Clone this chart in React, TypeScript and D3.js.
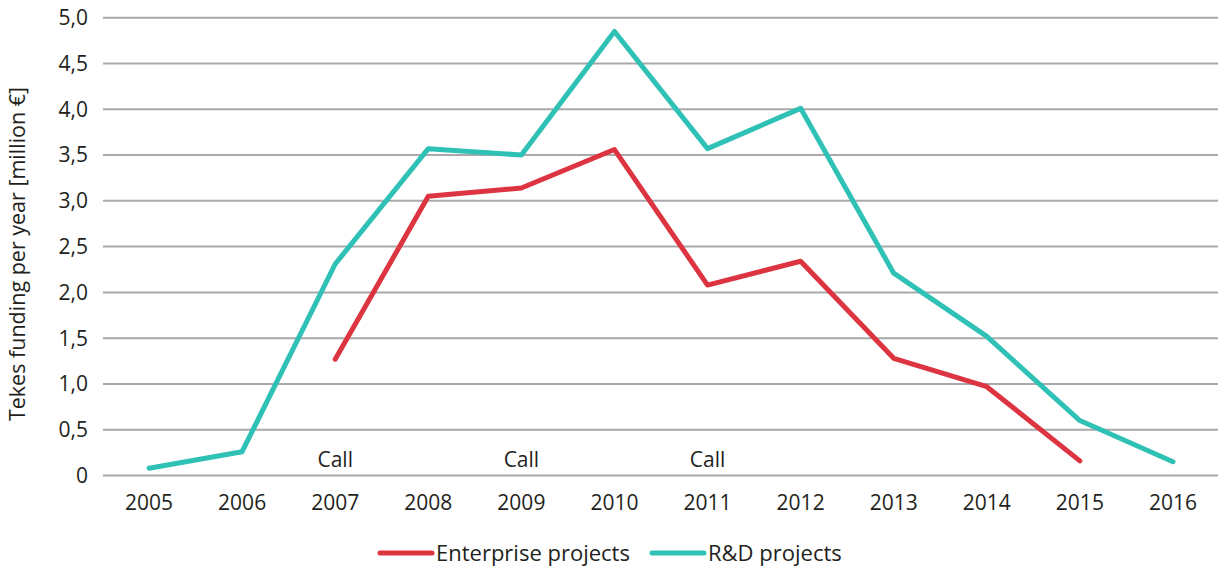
import React from "react";
import * as d3 from "d3";

const years = ["2005", "2006", "2007", "2008", "2009", "2010", "2011", "2012", "2013", "2014", "2015", "2016"];
const rdValues = [0.08, 0.26, 2.31, 3.57, 3.5, 4.85, 3.57, 4.01, 2.21, 1.52, 0.6, 0.15];
const enterpriseValues = [null, null, 1.27, 3.05, 3.14, 3.56, 2.08, 2.34, 1.28, 0.97, 0.16, null];
const yTicks = [0, 0.5, 1, 1.5, 2, 2.5, 3, 3.5, 4, 4.5, 5];
const callYears = ["2007", "2009", "2011"];

const W = 1220;
const H = 570;
const RED = "#dc3440";
const TEAL = "#2fc1b6";
const TEXT = "#231f20";
const FONT = "'Open Sans', 'Noto Sans', sans-serif";

const App = () => {
  const x = d3.scaleBand().domain(years).range([102.5, 1219.5]);
  const y = d3.scaleLinear().domain([0, 5]).range([475.5, 17.7]);
  const cx = (yr: string) => (x(yr) ?? 0) + x.bandwidth() / 2;

  const line = d3
    .line<number | null>()
    .defined((d) => d !== null)
    .x((_, i) => cx(years[i]))
    .y((d) => y(d as number));

  // comma decimals like the original
  const fmt = (v: number) => (v === 0 ? "0" : v.toFixed(1).replace(".", ","));

  return (
    <svg width={W} height={H} style={{ position: "absolute", left: 0, top: 0, background: "#fff" }} fontFamily={FONT}>
      {yTicks.map((t) => (
        <g key={t}>
          <line x1={103} x2={1218} y1={y(t)} y2={y(t)} stroke="#a9a9ac" strokeWidth={2} />
          <text x={88} y={y(t)} dy="0.35em" textAnchor="end" fontSize={21} fill={TEXT}>
            {fmt(t)}
          </text>
        </g>
      ))}
      {years.map((yr) => (
        <text key={yr} x={cx(yr)} y={510} textAnchor="middle" fontSize={21} fill={TEXT}>
          {yr}
        </text>
      ))}
      {callYears.map((yr) => (
        <text key={"c" + yr} x={cx(yr)} y={467} textAnchor="middle" fontSize={21} fill={TEXT}>
          Call
        </text>
      ))}
      <text
        transform={`translate(25,254) rotate(-90)`}
        textAnchor="middle"
        fontSize={21.5}
        fill={TEXT}
      >
        Tekes funding per year [million €]
      </text>
      <path d={line(rdValues) ?? ""} fill="none" stroke={TEAL} strokeWidth={5} strokeLinecap="round" strokeLinejoin="round" />
      <path d={line(enterpriseValues) ?? ""} fill="none" stroke={RED} strokeWidth={5} strokeLinecap="round" strokeLinejoin="round" />
      <g>
        <line x1={380} x2={432} y1={553} y2={553} stroke={RED} strokeWidth={5} strokeLinecap="round" />
        <text x={436} y={553} dy="0.35em" fontSize={22} fill={TEXT}>
          Enterprise projects
        </text>
        <line x1={652} x2={704} y1={553} y2={553} stroke={TEAL} strokeWidth={5} strokeLinecap="round" />
        <text x={708} y={553} dy="0.35em" fontSize={22} fill={TEXT}>
          R&amp;D projects
        </text>
      </g>
    </svg>
  );
};

export default App;
